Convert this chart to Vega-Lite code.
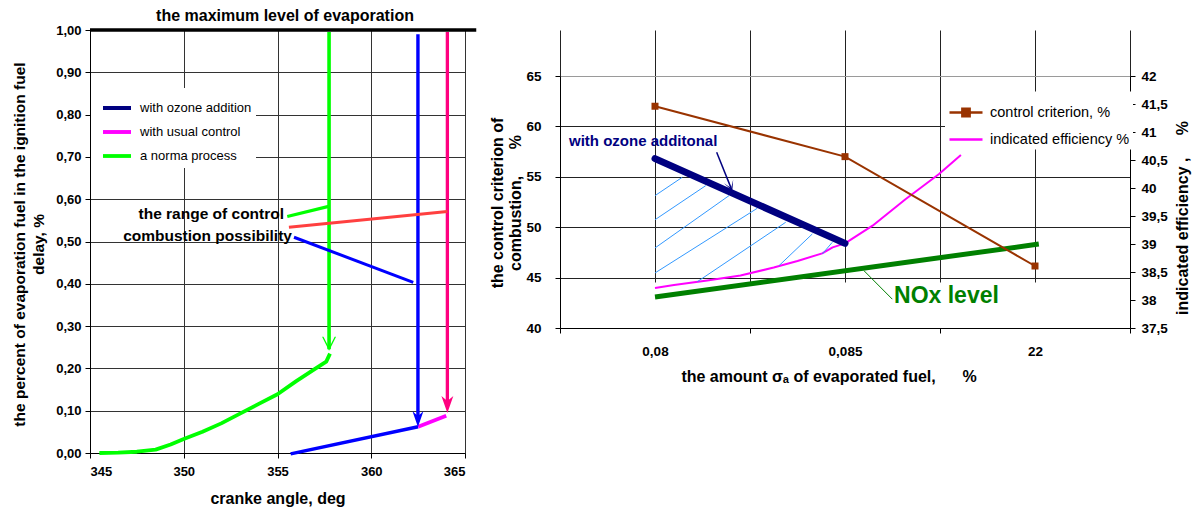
{
  "$schema": "https://vega.github.io/schema/vega-lite/v6.json",
  "background": "white",
  "padding": {"left": 11, "top": 7, "right": 5, "bottom": 5},
  "bounds": "flush",
  "spacing": 95,
  "config": {
    "font": "Liberation Sans",
    "view": {"stroke": null},
    "axis": {
      "labelFont": "Liberation Sans", "labelFontWeight": "bold", "labelColor": "#000000",
      "titleFont": "Liberation Sans", "titleFontWeight": "bold", "titleColor": "#000000", "titleFontSize": 16,
      "domainColor": "#000000", "domainWidth": 1, "tickColor": "#000000", "tickSize": 5, "tickWidth": 1,
      "gridColor": "#333333", "gridOpacity": 1, "gridWidth": 1
    },
    "legend": {"labelFont": "Liberation Sans", "labelColor": "#000000"},
    "text": {"font": "Liberation Sans"}
  },
  "resolve": {
    "scale": {"color": "independent", "strokeWidth": "independent", "shape": "independent", "size": "independent"},
    "legend": {"color": "independent"}
  },
  "datasets": {
    "evaporation": [
      {"line": "max level", "crank_angle": 345, "fraction": 1},
      {"line": "max level", "crank_angle": 365.6, "fraction": 1},
      {"line": "a norma process", "crank_angle": 345.5, "fraction": 0},
      {"line": "a norma process", "crank_angle": 346.5, "fraction": 0.001},
      {"line": "a norma process", "crank_angle": 347.5, "fraction": 0.003},
      {"line": "a norma process", "crank_angle": 348.5, "fraction": 0.008},
      {"line": "a norma process", "crank_angle": 349.3, "fraction": 0.02},
      {"line": "a norma process", "crank_angle": 350, "fraction": 0.033},
      {"line": "a norma process", "crank_angle": 351, "fraction": 0.05},
      {"line": "a norma process", "crank_angle": 352, "fraction": 0.07},
      {"line": "a norma process", "crank_angle": 353, "fraction": 0.093},
      {"line": "a norma process", "crank_angle": 354, "fraction": 0.116},
      {"line": "a norma process", "crank_angle": 355, "fraction": 0.139},
      {"line": "a norma process", "crank_angle": 356, "fraction": 0.17},
      {"line": "a norma process", "crank_angle": 357, "fraction": 0.199},
      {"line": "a norma process", "crank_angle": 357.6, "fraction": 0.216},
      {"line": "a norma process", "crank_angle": 357.8, "fraction": 0.235},
      {"line": "norma process drop", "crank_angle": 357.75, "fraction": 0.995},
      {"line": "norma process drop", "crank_angle": 357.75, "fraction": 0.245},
      {"line": "ozone path", "crank_angle": 355.7, "fraction": -0.002},
      {"line": "ozone path", "crank_angle": 362.5, "fraction": 0.062},
      {"line": "ozone drop", "crank_angle": 362.49, "fraction": 0.99},
      {"line": "ozone drop", "crank_angle": 362.49, "fraction": 0.085},
      {"line": "with usual control", "crank_angle": 362.5, "fraction": 0.062},
      {"line": "with usual control", "crank_angle": 364.0, "fraction": 0.088},
      {"line": "usual control drop", "crank_angle": 364.06, "fraction": 0.995},
      {"line": "usual control drop", "crank_angle": 364.06, "fraction": 0.12},
      {"line": "range: norma", "crank_angle": 355.52, "fraction": 0.559},
      {"line": "range: norma", "crank_angle": 357.73, "fraction": 0.583},
      {"line": "range: usual", "crank_angle": 355.61, "fraction": 0.5335},
      {"line": "range: usual", "crank_angle": 364.06, "fraction": 0.571},
      {"line": "range: ozone", "crank_angle": 355.88, "fraction": 0.51},
      {"line": "range: ozone", "crank_angle": 362.24, "fraction": 0.4035}
    ],
    "arrowheads": [
      {"line": "norma process drop", "crank_angle": 357.75, "fraction": 0.258},
      {"line": "ozone drop", "crank_angle": 362.49, "fraction": 0.08},
      {"line": "usual control drop", "crank_angle": 364.06, "fraction": 0.1147}
    ],
    "control_criterion": [
      {"series": "control criterion, %", "position": 1, "sigma": "0,08", "criterion": 62},
      {"series": "control criterion, %", "position": 3, "sigma": "0,085", "criterion": 57},
      {"series": "control criterion, %", "position": 5, "sigma": "22", "criterion": 46.15}
    ],
    "indicated_efficiency": [
      {"series": "indicated efficiency %", "position": 1.0, "efficiency": 38.215},
      {"series": "indicated efficiency %", "position": 1.2, "efficiency": 38.269},
      {"series": "indicated efficiency %", "position": 1.55, "efficiency": 38.35},
      {"series": "indicated efficiency %", "position": 1.9, "efficiency": 38.436},
      {"series": "indicated efficiency %", "position": 2.25, "efficiency": 38.58},
      {"series": "indicated efficiency %", "position": 2.5, "efficiency": 38.697},
      {"series": "indicated efficiency %", "position": 2.76, "efficiency": 38.832},
      {"series": "indicated efficiency %", "position": 2.87, "efficiency": 38.94},
      {"series": "indicated efficiency %", "position": 3.0, "efficiency": 39.012},
      {"series": "indicated efficiency %", "position": 3.29, "efficiency": 39.327},
      {"series": "indicated efficiency %", "position": 3.64, "efficiency": 39.804},
      {"series": "indicated efficiency %", "position": 3.99, "efficiency": 40.25},
      {"series": "indicated efficiency %", "position": 4.22, "efficiency": 40.589}
    ],
    "nox_level": [
      {"position": 1.0, "criterion": 43.08},
      {"position": 5.04, "criterion": 48.33}
    ],
    "ozone_boundary": [
      {"position": 1.0, "criterion": 56.8},
      {"position": 3.0, "criterion": 48.4}
    ],
    "hatch": [
      {"x_start": 1.0, "y_start": 53.13, "x_end": 1.287, "y_end": 54.95},
      {"x_start": 1.0, "y_start": 50.74, "x_end": 1.534, "y_end": 54.12},
      {"x_start": 1.0, "y_start": 47.94, "x_end": 1.779, "y_end": 53.13},
      {"x_start": 1.0, "y_start": 45.46, "x_end": 2.077, "y_end": 51.88},
      {"x_start": 1.445, "y_start": 44.59, "x_end": 2.376, "y_end": 50.49},
      {"x_start": 2.305, "y_start": 46.18, "x_end": 2.656, "y_end": 49.33},
      {"x_start": 2.761, "y_start": 47.34, "x_end": 2.866, "y_end": 48.5}
    ]
  },
  "hconcat": [
    {
      "width": 375,
      "height": 423,
      "layer": [
        {
          "data": {"name": "evaporation"},
          "mark": {"type": "line", "strokeJoin": "round", "clip": false},
          "encoding": {
            "x": {
              "field": "crank_angle", "type": "quantitative",
              "scale": {"domain": [345, 365], "nice": false, "zero": false},
              "axis": {
                "values": [345, 350, 355, 360, 365], "labelFontSize": 13, "labelPadding": 7,
                "title": "cranke angle, deg", "titlePadding": 12, "grid": true
              }
            },
            "y": {
              "field": "fraction", "type": "quantitative",
              "scale": {"domain": [0, 1], "nice": false, "zero": false},
              "axis": {
                "values": [0, 0.1, 0.2, 0.3, 0.4, 0.5, 0.6, 0.7, 0.8, 0.9, 1],
                "labelExpr": "replace(format(datum.value, '.2f'), '.', ',')",
                "labelFontSize": 13, "labelPadding": 4, "grid": true,
                "title": ["the percent of evaporation fuel in the ignition fuel", "delay, %"],
                "titleFontSize": 15.5, "titleLineHeight": 19.5, "titleAngle": -90, "titleBaseline": "middle",
                "titleX": -71, "titleY": 214
              }
            },
            "color": {
              "field": "line", "type": "nominal",
              "scale": {
                "domain": ["with ozone addition", "with usual control", "a norma process", "max level", "norma process drop", "ozone path", "ozone drop", "usual control drop", "range: norma", "range: usual", "range: ozone"],
                "range": ["#000080", "#FF00FF", "#00FF00", "#000000", "#00FF00", "#0000FF", "#0000FF", "#FF0080", "#00FF00", "#FF4040", "#0000FF"]
              },
              "legend": {
                "orient": "none", "legendX": 1, "legendY": 58, "title": null,
                "values": ["with ozone addition", "with usual control", "a norma process"],
                "symbolType": "stroke", "symbolSize": 784, "symbolStrokeWidth": 4,
                "labelFontSize": 13, "labelFontWeight": "normal", "labelOffset": 7, "symbolOffset": 6,
                "rowPadding": -3.5, "padding": 4, "fillColor": "white"
              }
            },
            "strokeWidth": {
              "field": "line", "type": "ordinal",
              "scale": {
                "domain": ["with ozone addition", "with usual control", "a norma process", "max level", "norma process drop", "ozone path", "ozone drop", "usual control drop", "range: norma", "range: usual", "range: ozone"],
                "range": [4, 3, 6, 5, 2.5, 3, 4, 3, 1.5, 1.5, 1.5]
              },
              "legend": null
            }
          }
        },
        {
          "data": {"name": "arrowheads"},
          "mark": {"type": "point", "filled": true, "opacity": 1, "strokeWidth": 0},
          "encoding": {
            "x": {"field": "crank_angle", "type": "quantitative"},
            "y": {"field": "fraction", "type": "quantitative"},
            "color": {"field": "line", "type": "nominal", "legend": null},
            "shape": {
              "field": "line", "type": "nominal",
              "scale": {
                "domain": ["norma process drop", "ozone drop", "usual control drop"],
                "range": ["M-1,-1L-0.8,-1L0,0.55L0.8,-1L1,-1L0,1Z", "M-0.7,-1L0,-0.4L0.7,-1L0,1Z", "M-0.7,-1L0,-0.4L0.7,-1L0,1Z"]
              },
              "legend": null
            },
            "size": {
              "field": "line", "type": "ordinal",
              "scale": {"domain": ["norma process drop", "ozone drop", "usual control drop"], "range": [196, 289, 225]},
              "legend": null
            }
          }
        },
        {
          "data": {"values": [{"note": "the maximum level of evaporation"}]},
          "mark": {"type": "text", "fontSize": 16, "fontWeight": "bold", "align": "center", "baseline": "middle", "color": "#000000"},
          "encoding": {
            "x": {"datum": 355.4, "type": "quantitative"},
            "y": {"datum": 1.034, "type": "quantitative"},
            "text": {"field": "note"}
          }
        },
        {
          "data": {"values": [{"note": "the range of control"}]},
          "mark": {"type": "text", "fontSize": 15.5, "fontWeight": "bold", "align": "right", "baseline": "middle", "color": "#000000"},
          "encoding": {
            "x": {"datum": 355.35, "type": "quantitative"},
            "y": {"datum": 0.565, "type": "quantitative"},
            "text": {"field": "note"}
          }
        },
        {
          "data": {"values": [{"note": "combustion possibility"}]},
          "mark": {"type": "text", "fontSize": 15.5, "fontWeight": "bold", "align": "right", "baseline": "middle", "color": "#000000"},
          "encoding": {
            "x": {"datum": 355.77, "type": "quantitative"},
            "y": {"datum": 0.513, "type": "quantitative"},
            "text": {"field": "note"}
          }
        }
      ]
    },
    {
      "width": 570,
      "height": 298,
      "layer": [
        {
          "layer": [
            {
              "data": {"name": "indicated_efficiency"},
              "mark": {"type": "line", "strokeWidth": 2, "strokeJoin": "round"},
              "encoding": {
                "x": {
                  "field": "position", "type": "quantitative",
                  "scale": {"domain": [0, 6], "nice": false, "zero": false},
                  "axis": {
                    "values": [0, 1, 2, 3, 4, 5, 6],
                    "labelExpr": "datum.value === 1 ? '0,08' : datum.value === 3 ? '0,085' : datum.value === 5 ? '22' : ''",
                    "labelFontSize": 13.5, "labelPadding": 11,
                    "tickOpacity": {"condition": {"test": "datum.value % 2 === 0", "value": 1}, "value": 0},
                    "grid": true, "gridColor": "#222222",
                    "title": "the amount σₐ of evaporated fuel,\u00a0\u00a0\u00a0\u00a0\u00a0\u00a0%", "titlePadding": 11, "titleX": 268.5
                  }
                },
                "y": {
                  "field": "efficiency", "type": "quantitative",
                  "scale": {"domain": [37.5, 42], "range": [298, 46], "nice": false, "zero": false},
                  "axis": {
                    "orient": "right",
                    "values": [37.5, 38, 38.5, 39, 39.5, 40, 40.5, 41, 41.5, 42],
                    "labelExpr": "replace(format(datum.value, '.1~f'), '.', ',')",
                    "labelFontSize": 13.5, "labelPadding": 6, "grid": false,
                    "title": "indicated efficiency ,\u00a0\u00a0\u00a0\u00a0\u00a0%", "titleAngle": -90, "titleBaseline": "middle",
                    "titleX": 52, "titleY": 187.5
                  }
                },
                "color": {
                  "field": "series", "type": "nominal",
                  "scale": {"domain": ["control criterion, %", "indicated efficiency %"], "range": ["#993300", "#FF00FF"]},
                  "legend": {
                    "orient": "none", "legendX": 385, "legendY": 61.5, "title": null,
                    "symbolType": "stroke", "symbolSize": 1089, "symbolStrokeWidth": 2.5,
                    "labelFontSize": 14.5, "labelFontWeight": "normal", "labelOffset": 6,
                    "rowPadding": -7, "padding": 3, "fillColor": "white",
                    "encode": {
                      "symbols": {
                        "update": {
                          "shape": {"signal": "datum.value === 'control criterion, %' ? 'M-1,0H1M-0.22,-0.22H0.22V0.22H-0.22Z' : 'stroke'"},
                          "fill": {"value": "#993300"},
                          "strokeWidth": {"value": 2.5}
                        }
                      }
                    }
                  }
                }
              }
            }
          ]
        },
        {
          "layer": [
            {
              "data": {"name": "hatch"},
              "mark": {"type": "rule", "color": "#3399FF", "strokeWidth": 1},
              "encoding": {
                "x": {"field": "x_start", "type": "quantitative"},
                "y": {
                  "field": "y_start", "type": "quantitative",
                  "scale": {"domain": [40, 65], "range": [298, 46], "nice": false, "zero": false},
                  "axis": {
                    "orient": "left",
                    "values": [40, 45, 50, 55, 60, 65],
                    "labelFontSize": 13.5, "labelPadding": 14, "grid": true,
                    "gridColor": {"condition": {"test": "datum.value === 65", "value": "#9a9a9a"}, "value": "#222222"},
                    "title": ["the control criterion of", "combustion,\u00a0\u00a0\u00a0\u00a0\u00a0\u00a0%"],
                    "titleLineHeight": 18, "titleAngle": -90, "titleBaseline": "middle",
                    "titleX": -63, "titleY": 172.5
                  }
                },
                "x2": {"field": "x_end"},
                "y2": {"field": "y_end"}
              }
            },
            {
              "data": {"name": "ozone_boundary"},
              "mark": {"type": "line", "color": "#000080", "strokeWidth": 7, "strokeCap": "round"},
              "encoding": {
                "x": {"field": "position", "type": "quantitative"},
                "y": {"field": "criterion", "type": "quantitative"}
              }
            },
            {
              "data": {"name": "nox_level"},
              "mark": {"type": "line", "color": "#008000", "strokeWidth": 5},
              "encoding": {
                "x": {"field": "position", "type": "quantitative"},
                "y": {"field": "criterion", "type": "quantitative"}
              }
            },
            {
              "data": {"name": "control_criterion"},
              "mark": {"type": "line", "strokeWidth": 2},
              "encoding": {
                "x": {"field": "position", "type": "quantitative"},
                "y": {"field": "criterion", "type": "quantitative"},
                "color": {
                  "field": "series", "type": "nominal",
                  "scale": {"domain": ["control criterion, %", "indicated efficiency %"], "range": ["#993300", "#FF00FF"]}
                }
              }
            },
            {
              "data": {"name": "control_criterion"},
              "mark": {"type": "point", "shape": "square", "filled": true, "size": 49, "color": "#993300", "opacity": 1},
              "encoding": {
                "x": {"field": "position", "type": "quantitative"},
                "y": {"field": "criterion", "type": "quantitative"}
              }
            },
            {
              "data": {"values": [{"note": "NOx level"}]},
              "mark": {"type": "rule", "color": "#008000", "strokeWidth": 1},
              "encoding": {
                "x": {"datum": 3.2, "type": "quantitative"},
                "y": {"datum": 45.68, "type": "quantitative"},
                "x2": {"datum": 3.498},
                "y2": {"datum": 42.86}
              }
            },
            {
              "data": {"values": [{"note": "with ozone additonal"}]},
              "mark": {"type": "rule", "color": "#000080", "strokeWidth": 1.5},
              "encoding": {
                "x": {"datum": 1.649, "type": "quantitative"},
                "y": {"datum": 57.43, "type": "quantitative"},
                "x2": {"datum": 1.8},
                "y2": {"datum": 53.9}
              }
            },
            {
              "data": {"values": [{"note": "with ozone additonal"}]},
              "mark": {"type": "point", "shape": "M-1,-1L0,0.4L1,-1L0,1Z", "filled": true, "size": 100, "angle": -22, "color": "#000080", "opacity": 1, "strokeWidth": 0},
              "encoding": {
                "x": {"datum": 1.794, "type": "quantitative"},
                "y": {"datum": 54.08, "type": "quantitative"}
              }
            },
            {
              "data": {"values": [{"note": "with ozone additonal"}]},
              "mark": {"type": "text", "fontSize": 15, "fontWeight": "bold", "align": "left", "baseline": "middle", "color": "#000080"},
              "encoding": {
                "x": {"datum": 0.095, "type": "quantitative"},
                "y": {"datum": 58.55, "type": "quantitative"},
                "text": {"field": "note"}
              }
            },
            {
              "data": {"values": [{"note": "NOx level"}]},
              "mark": {"type": "text", "fontSize": 23, "fontWeight": "bold", "align": "left", "baseline": "middle", "color": "#008000"},
              "encoding": {
                "x": {"datum": 3.516, "type": "quantitative"},
                "y": {"datum": 43.2, "type": "quantitative"},
                "text": {"field": "note"}
              }
            }
          ]
        }
      ],
      "resolve": {"scale": {"y": "independent"}, "axis": {"y": "independent"}}
    }
  ]
}
